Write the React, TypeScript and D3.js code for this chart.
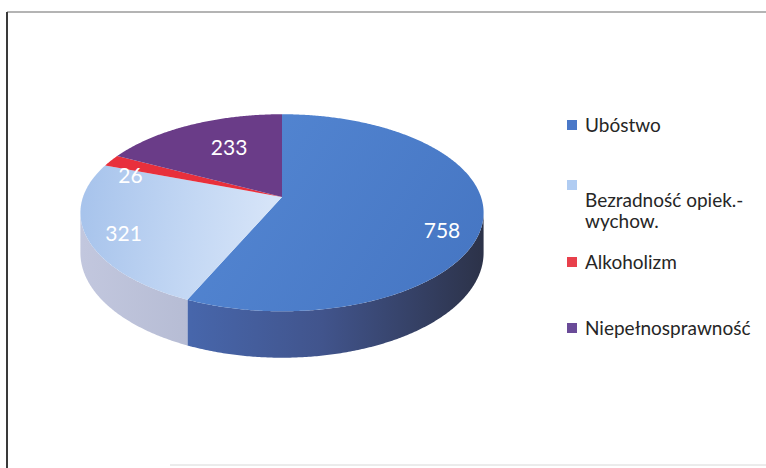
import React from 'react';
import * as d3 from 'd3';

const categories = ['Ubóstwo', 'Bezradność opiek.-wychow.', 'Alkoholizm', 'Niepełnosprawność'];
const values = [758, 321, 26, 233];
const legendLines = [['Ubóstwo'], ['Bezradność opiek.-', 'wychow.'], ['Alkoholizm'], ['Niepełnosprawność']];

// styles
const topFills = ['url(#gTop0)', 'url(#gTop1)', '#e8303c', '#6a3c88'];
const wallFills = ['url(#gWall0)', 'url(#gWall1)', '#a0202a', '#4a2a60'];
const legendColors = ['#4a78c8', '#b0ccf2', '#e8404c', '#6a4b98'];
const labelRadius = [0.8, 0.82, 0.88, 0.55];
const labelNudge = [16, 3, 10, -9];

const W = 766;
const H = 468;
const CX = 282;
const CY = 197;
const RX = 199;
const RY = 96;
const K = 0.16; // perspective
const DEPTH = 39;

const xScale = d3.scaleLinear().domain([-1, 1]).range([CX - RX, CX + RX]);
const yScale = d3.scaleLinear().domain([-1, 1]).range([CY - RY, CY + RY]);

function proj(a: number, r: number, z = 0): [number, number] {
  const u = r * Math.sin(a);
  const v = -r * Math.cos(a);
  const f = 1 / (1 - K * v);
  return [xScale(u * f), yScale(v * f) + z * f];
}

function arcPts(a0: number, a1: number, z = 0): [number, number][] {
  const n = Math.max(2, Math.ceil(Math.abs(a1 - a0) / (Math.PI / 360)));
  const pts: [number, number][] = [];
  for (let i = 0; i <= n; i++) pts.push(proj(a0 + ((a1 - a0) * i) / n, 1, z));
  return pts;
}

const line = d3.line<[number, number]>();

export default function App() {
  const arcs = d3.pie<number>().sort(null).startAngle(0).endAngle(2 * Math.PI)(values);
  const visMin = Math.acos(-K);
  const visMax = 2 * Math.PI - visMin;

  const walls: { d: string; i: number }[] = [];
  arcs.forEach((a, i) => {
    const b0 = Math.max(a.startAngle, visMin);
    const b1 = Math.min(a.endAngle, visMax);
    if (b1 > b0) {
      const top = arcPts(b0, b1, 0);
      const bot = arcPts(b0, b1, DEPTH).reverse();
      walls.push({ d: (line([...top, ...bot]) as string) + 'Z', i });
    }
  });

  const tops = arcs.map((a, i) => {
    const pts: [number, number][] = [proj(0, 0), ...arcPts(a.startAngle, a.endAngle, 0)];
    return { d: (line(pts) as string) + 'Z', i };
  });

  const labels = arcs.map((a, i) => {
    const mid = (a.startAngle + a.endAngle) / 2;
    const [x, y] = proj(mid, labelRadius[i]);
    return { x, y: y + labelNudge[i], text: String(values[i]) };
  });

  const legendY = [125, 185, 262, 328];

  return (
    <svg width={W} height={H} style={{ position: 'absolute', left: 0, top: 0, background: '#fff' }}>
      <defs>
        <linearGradient id="gTop0" gradientUnits="userSpaceOnUse" x1={180} y1={120} x2={480} y2={310}>
          <stop offset="0" stopColor="#5588d4" />
          <stop offset="1" stopColor="#4575c2" />
        </linearGradient>
        <linearGradient id="gTop1" gradientUnits="userSpaceOnUse" x1={85} y1={200} x2={270} y2={220}>
          <stop offset="0" stopColor="#a8c4ec" />
          <stop offset="0.6" stopColor="#c4d8f4" />
          <stop offset="1" stopColor="#d6e4f8" />
        </linearGradient>
        <linearGradient id="gWall0" gradientUnits="userSpaceOnUse" x1={190} y1={0} x2={485} y2={0}>
          <stop offset="0" stopColor="#4766ab" />
          <stop offset="0.45" stopColor="#41548c" />
          <stop offset="1" stopColor="#2c3248" />
        </linearGradient>
        <linearGradient id="gWall1" gradientUnits="userSpaceOnUse" x1={82} y1={0} x2={190} y2={0}>
          <stop offset="0" stopColor="#c2c7de" />
          <stop offset="1" stopColor="#b6bcd4" />
        </linearGradient>
      </defs>

      {/* frame */}
      <line x1={7} y1={12} x2={766} y2={12} stroke="#6a6a6a" strokeWidth={1.2} />
      <line x1={7} y1={12} x2={7} y2={468} stroke="#3a3a3a" strokeWidth={2} />
      <line x1={170} y1={465} x2={766} y2={465} stroke="#d8d8d8" strokeWidth={1} />

      {walls.map((w) => (
        <path key={'w' + w.i} d={w.d} fill={wallFills[w.i]} />
      ))}
      {tops.map((t) => (
        <path key={'t' + t.i} d={t.d} fill={topFills[t.i]} />
      ))}

      {labels.map((l, i) => (
        <text
          key={'l' + i}
          x={l.x}
          y={l.y}
          textAnchor="middle"
          dominantBaseline="central"
          fill="#ffffff"
          fontFamily="Lato, 'Open Sans', sans-serif"
          fontSize={21}
        >
          {l.text}
        </text>
      ))}

      {categories.map((c, i) => (
        <g key={'lg' + i}>
          <rect x={567} y={legendY[i] - 5} width={10} height={10} fill={legendColors[i]} />
          <text
            x={585}
            y={i === 1 ? 207 : legendY[i] + 7}
            fill="#262626"
            fontFamily="Lato, 'Open Sans', sans-serif"
            fontSize={19}
          >
            {legendLines[i].map((ln, j) => (
              <tspan key={j} x={585} dy={j === 0 ? 0 : 21}>
                {ln}
              </tspan>
            ))}
          </text>
        </g>
      ))}
    </svg>
  );
}
